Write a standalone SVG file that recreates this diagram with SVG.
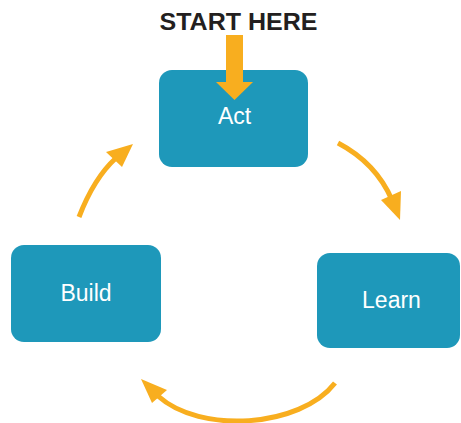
<svg xmlns="http://www.w3.org/2000/svg" width="461" height="423" viewBox="0 0 461 423">
  <style>
    .box { fill: #1E98BA; }
    .lbl { fill: #FFFFFF; font-family: "Liberation Sans", Arial, sans-serif; font-size: 23px; text-anchor: middle; }
    .title { fill: #231F20; font-family: "Liberation Sans", Arial, sans-serif; font-size: 24px; font-weight: bold; text-anchor: middle; }
    .flow { fill: none; stroke: #F8AE1F; stroke-width: 5; }
    .head { fill: #F8AE1F; }
  </style>
  <rect width="461" height="423" fill="#FFFFFF"/>
  <text class="title" x="238.5" y="30" textLength="158" lengthAdjust="spacingAndGlyphs">START HERE</text>
  <g id="act">
    <rect class="box" x="159" y="70" width="149" height="97" rx="13"/>
    <text class="lbl" x="234.5" y="124">Act</text>
  </g>
  <g id="learn">
    <rect class="box" x="317" y="253" width="143" height="95" rx="13"/>
    <text class="lbl" x="391.5" y="308">Learn</text>
  </g>
  <g id="build">
    <rect class="box" x="11" y="245" width="150" height="97" rx="13"/>
    <text class="lbl" x="86" y="301">Build</text>
  </g>
  <g id="start-arrow">
    <rect class="head" x="226" y="35" width="17" height="48"/>
    <polygon class="head" points="216,82 253,82 234.5,100"/>
  </g>
  <g id="connectors">
    <path class="flow" d="M338,143 Q376,163 392,200"/>
    <polygon class="head" points="381,200 401,191 400,220"/>
    <path class="flow" d="M79,217 Q94,178 116,158"/>
    <polygon class="head" points="106,152 133,144 122,167"/>
    <path class="flow" d="M335,383 C300,428 200,434 158,396"/>
    <polygon class="head" points="167,390 141,379 152,403"/>
  </g>
</svg>
